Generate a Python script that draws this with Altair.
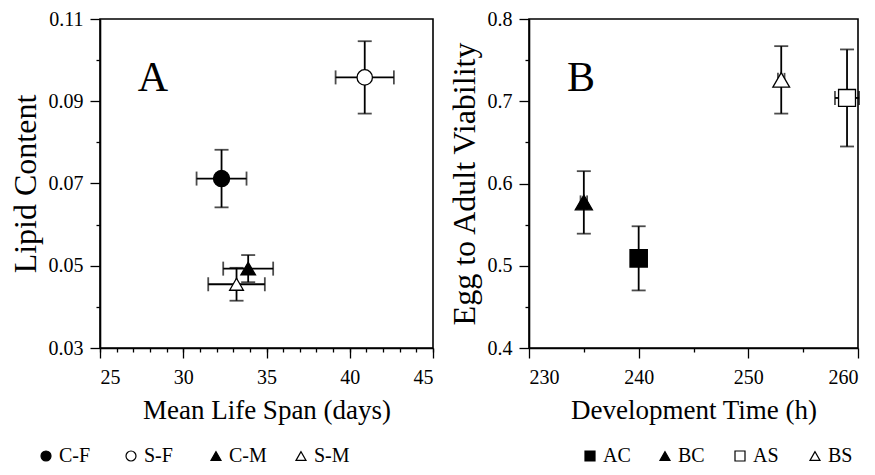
import altair as alt
import pandas as pd

# Panel A data
A_groups = ["C-F", "S-F", "C-M", "S-M"]
A_span = [32.3, 40.9, 33.9, 33.2]
A_span_err = [1.5, 1.75, 1.5, 1.7]
A_lipid = [0.0712, 0.0958, 0.0493, 0.0455]
A_lipid_err = [0.007, 0.0088, 0.0033, 0.004]
A_shapes = ["circle", "circle", "triangle-up", "triangle-up"]
A_fills = ["black", "white", "black", "white"]
A_sizes = [260, 190, 300, 270]

# Panel B data
B_groups = ["AC", "BC", "AS", "BS"]
B_time = [240.0, 235.0, 259.0, 253.0]
B_time_err = [0.0, 0.3, 1.1, 0.3]
B_via = [0.509, 0.577, 0.704, 0.726]
B_via_err = [0.039, 0.038, 0.059, 0.041]
B_shapes = ["square", "triangle-up", "square", "triangle-up"]
B_fills = ["black", "black", "white", "white"]
B_sizes = [300, 280, 290, 250]

FONT = "Liberation Serif"


def make_df(groups, xv, xe, yv, ye):
    return pd.DataFrame({
        "group": groups,
        "xv": xv,
        "xlo": [a - b for a, b in zip(xv, xe)],
        "xhi": [a + b for a, b in zip(xv, xe)],
        "yv": yv,
        "ylo": [a - b for a, b in zip(yv, ye)],
        "yhi": [a + b for a, b in zip(yv, ye)],
    })


def panel(df, xdom, ydom, xmaj, xmin, ymaj, ymin, xtitle, ytitle, yfmt,
          letter, lpos, shapes, fills, sizes, leg_range, leg_y, w, h):
    xs = alt.Scale(domain=xdom, nice=False, zero=False)
    ys = alt.Scale(domain=ydom, nice=False, zero=False)
    dom = list(df["group"])
    shape_sc = alt.Scale(domain=dom, range=shapes)
    fill_sc = alt.Scale(domain=dom, range=fills)
    base = alt.Chart(df)

    minor = base.mark_point(opacity=0).encode(
        x=alt.X("xv:Q", scale=xs, axis=alt.Axis(values=xmin, labels=False, tickSize=4,
                                                  domain=False, title=None, orient="bottom")),
        y=alt.Y("yv:Q", scale=ys, axis=alt.Axis(values=ymin, labels=False, tickSize=4,
                                                  domain=False, title=None, orient="left")),
    )
    cap = {"size": 14, "thickness": 1.8, "color": "black"}
    verr = base.mark_errorbar(ticks=cap, thickness=1.8, color="black").encode(
        x=alt.X("xv:Q", scale=xs, axis=None),
        y=alt.Y("ylo:Q", scale=ys, axis=None),
        y2="yhi:Q",
    )
    herr = base.mark_errorbar(ticks=cap, thickness=1.8, color="black").encode(
        y=alt.Y("yv:Q", scale=ys, axis=None),
        x=alt.X("xlo:Q", scale=xs, axis=None),
        x2="xhi:Q",
    )
    pts = base.mark_point(strokeWidth=1.3, opacity=1, fillOpacity=1, stroke="black").encode(
        x=alt.X("xv:Q", scale=xs, title=xtitle,
                axis=alt.Axis(values=xmaj, format="d", orient="bottom")),
        y=alt.Y("yv:Q", scale=ys, title=ytitle,
                axis=alt.Axis(values=ymaj, format=yfmt, orient="left",
                              labelPadding=7, titleFontSize=32, titlePadding=6)),
        shape=alt.Shape("group:N", scale=shape_sc, legend=None),
        fill=alt.Fill("group:N", scale=fill_sc, legend=None),
        size=alt.Size("group:N", scale=alt.Scale(domain=dom, range=sizes), legend=None),
    )
    txt = alt.Chart(pd.DataFrame({"t": [letter]})).mark_text(
        font=FONT, fontSize=42, color="black", align="center", baseline="alphabetic"
    ).encode(text="t:N", x=alt.value(lpos[0]), y=alt.value(lpos[1]))

    # hand-built legend row under the plot
    leg_x = alt.X("group:N", sort=dom, axis=None,
                  scale=alt.Scale(type="point", domain=dom, range=leg_range, padding=0))
    leg_pts = base.mark_point(size=100, strokeWidth=1.2, opacity=1, fillOpacity=1,
                              stroke="black").encode(
        x=leg_x, y=alt.value(leg_y),
        shape=alt.Shape("group:N", scale=shape_sc, legend=None),
        fill=alt.Fill("group:N", scale=fill_sc, legend=None),
    )
    leg_txt = base.mark_text(font=FONT, fontSize=20, color="black", align="left",
                             baseline="middle", dx=13).encode(
        x=leg_x, y=alt.value(leg_y), text="group:N"
    )

    return alt.layer(minor, verr, herr, pts, txt, leg_pts, leg_txt).resolve_scale(
        x="independent"
    ).resolve_axis(
        x="independent", y="independent"
    ).properties(width=w, height=h)


dfA = make_df(A_groups, A_span, A_span_err, A_lipid, A_lipid_err)
dfB = make_df(B_groups, B_time, B_time_err, B_via, B_via_err)

pA = panel(dfA, [25, 45], [0.03, 0.11], [25, 30, 35, 40, 45], list(range(25, 46)),
           [0.03, 0.05, 0.07, 0.09, 0.11], [0.04, 0.06, 0.08, 0.10],
           "Mean Life Span (days)", "Lipid Content", ".2f", "A", (53, 72),
           A_shapes, A_fills, A_sizes, [-54, 201], 437, 333, 329)
pB = panel(dfB, [230, 260], [0.4, 0.8], [230, 240, 250, 260], [235, 245, 255],
           [0.4, 0.5, 0.6, 0.7, 0.8], [0.45, 0.55, 0.65, 0.75],
           "Development Time (h)", "Egg to Adult Viability", ".1f", "B", (52, 72),
           B_shapes, B_fills, B_sizes, [61, 286], 437, 329, 329)

chart = alt.hconcat(pA, pB, spacing=12).resolve_scale(
    shape="independent", fill="independent", size="independent"
).properties(
    padding={"top": 0, "left": 0, "right": 0, "bottom": 0}
).configure_view(
    stroke="black", strokeWidth=1.6
).configure_axis(
    domainColor="black", domainWidth=1.6, tickColor="black", tickWidth=1.3,
    tickSize=10, labelFont=FONT, labelFontSize=20, labelColor="black",
    titleFont=FONT, titleFontSize=27, titleFontWeight="normal", titleColor="black",
    grid=False, labelPadding=9, titlePadding=10
)

chart.save("out.html", embed_options={"renderer": "svg", "actions": False})
